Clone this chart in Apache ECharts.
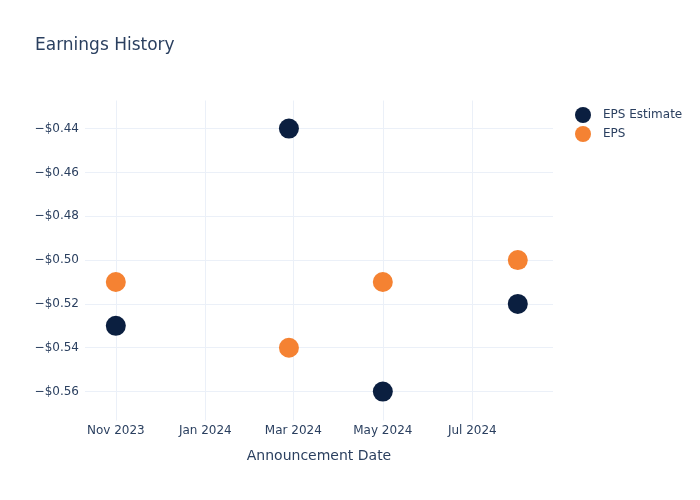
<!DOCTYPE html>
<html><head><meta charset="utf-8">
<script src="https://cdn.jsdelivr.net/npm/echarts@6/dist/echarts.min.js"></script>
<style>html,body{margin:0;padding:0;background:#fff}#c{width:700px;height:500px}</style>
</head><body><div id="c"></div>
<script>
const dates = ['2023-11-01', '2024-02-27', '2024-05-01', '2024-08-01'];
const epsEstimate = [-0.53, -0.44, -0.56, -0.52];
const eps = [-0.51, -0.54, -0.51, -0.50];
const seriesNames = ['EPS Estimate', 'EPS'];
const monthNames = ['Jan','Feb','Mar','Apr','May','Jun','Jul','Aug','Sep','Oct','Nov','Dec'];

const txt = '#2a3f5f';
const font = "'DejaVu Sans', sans-serif";
const chart = echarts.init(document.getElementById('c'));
chart.setOption({
  backgroundColor: '#fff',
  animation: false,
  textStyle: {fontFamily: font},
  title: {text: 'Earnings History', left: 35, top: 37, padding: 0, textStyle: {fontFamily: font, fontSize: 17, fontWeight: 'normal', color: txt}},
  legend: {
    orient: 'vertical', left: 575, top: 107, padding: 0, itemGap: 3, itemWidth: 16, itemHeight: 16,
    icon: 'circle', textStyle: {fontFamily: font, fontSize: 12, color: txt, padding: [0, 0, 0, 7]},
    data: seriesNames
  },
  grid: {left: 85, right: 147, top: 100.5, bottom: 79.5},
  xAxis: {
    type: 'time', splitNumber: 4,
    min: +new Date('2023-10-11'), max: +new Date('2024-08-25'),
    name: 'Announcement Date', nameLocation: 'middle', nameGap: 29,
    nameTextStyle: {fontFamily: font, fontSize: 14, color: txt},
    axisLine: {show: false}, axisTick: {show: false}, minorTick: {show: false},
    axisLabel: {color: txt, fontSize: 12, fontFamily: font, margin: 4, hideOverlap: false, showMinLabel: false, showMaxLabel: false,
      formatter: v => { const d = new Date(v); return monthNames[d.getMonth()] + ' ' + d.getFullYear(); }},
    splitLine: {show: true, showMinLine: false, showMaxLine: false, lineStyle: {color: '#ebf0f8', width: 1}}
  },
  yAxis: {
    type: 'value', min: -0.5732, max: -0.4272, splitNumber: 7,
    axisLine: {show: false}, axisTick: {show: false},
    axisLabel: {color: txt, fontSize: 12, fontFamily: font, margin: 6, showMinLabel: false, showMaxLabel: false,
      formatter: v => '\u2212$' + Math.abs(v).toFixed(2)},
    splitLine: {show: true, showMinLine: false, showMaxLine: false, lineStyle: {color: '#ebf0f8', width: 1}}
  },
  series: [
    {name: seriesNames[0], type: 'scatter', symbolSize: 20, itemStyle: {color: '#0b1f40', opacity: 1},
      data: dates.map((d, i) => [d, epsEstimate[i]])},
    {name: seriesNames[1], type: 'scatter', symbolSize: 20, itemStyle: {color: '#f58232', opacity: 1},
      data: dates.map((d, i) => [d, eps[i]])}
  ]
});
</script></body></html>
